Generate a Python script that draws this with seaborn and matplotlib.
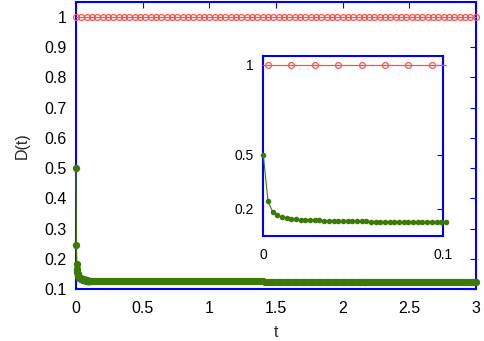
import numpy as np
import matplotlib
matplotlib.use("Agg")
import matplotlib.pyplot as plt
from matplotlib.ticker import FormatStrFormatter
import seaborn as sns

# early-time decay, sampled every dt (also used for the inset)
dt = 0.0026
d_head = [0.5, 0.245, 0.183, 0.165, 0.156, 0.150, 0.146, 0.143, 0.141, 0.139,
          0.138, 0.137, 0.136, 0.135, 0.134, 0.134, 0.133, 0.133, 0.132, 0.132,
          0.131, 0.131, 0.131, 0.130, 0.130, 0.130, 0.130, 0.129, 0.129, 0.129,
          0.129, 0.129, 0.128, 0.128, 0.128, 0.128, 0.128, 0.128, 0.128, 0.128]
t_head = np.arange(len(d_head)) * dt

# long-time tail, read every 0.02
t_tail = np.round(np.arange(0.12, 3.0001, 0.02), 4)
d_tail = [0.127] * 15 + [0.126] * 20 + [0.125] * 30 + [0.124] * 35 + [0.123] * 45

# reference curve D(t) = 1
t_ref = np.round(np.arange(0, 3.0001, 0.04), 4)
d_ref = [1.0] * len(t_ref)
d_ref_head = [1.0] * len(t_head)

xticks_main = [0, 0.5, 1, 1.5, 2, 2.5, 3]
yticks_main = [0.1, 0.2, 0.3, 0.4, 0.5, 0.6, 0.7, 0.8, 0.9, 1]
xticks_in = [0, 0.1]
yticks_in = [0.2, 0.5, 1]

sns.set_style("white")
plt.rcParams['font.family'] = ['Liberation Sans', 'DejaVu Sans']

green = "#3c7a06"
red = "#ff5050"
blue = "#0000ff"

t_main = np.concatenate([t_head, t_tail])
d_main = list(d_head) + d_tail

fig = plt.figure(figsize=(4.84, 3.41), dpi=100)
ax = fig.add_axes([0.157, 0.1525, 0.826, 0.8425])

sns.lineplot(x=t_ref, y=d_ref, ax=ax, color=red, lw=0.9, marker="o",
             markersize=4.2, markerfacecolor="none", markeredgecolor=red,
             markeredgewidth=0.9, clip_on=False, zorder=3)
sns.lineplot(x=t_main, y=d_main, ax=ax, color=green, lw=1, marker="o",
             markersize=5.3, markeredgewidth=0, clip_on=False, zorder=3)

ax.set_xlim(0, 3)
ax.set_ylim(0.1, 1.05)
ax.set_xticks(xticks_main)
ax.set_yticks(yticks_main)
ax.xaxis.set_major_formatter(FormatStrFormatter('%g'))
ax.yaxis.set_major_formatter(FormatStrFormatter('%g'))
ax.set_xlabel("t", fontsize=11.5, labelpad=6)
ax.set_ylabel("D(t)", fontsize=11.5, labelpad=10)

axin = fig.add_axes([0.544, 0.308, 0.372, 0.529])
sns.lineplot(x=t_head, y=d_ref_head, ax=axin, color=red, lw=0.9, marker="o",
             markersize=4.2, markerfacecolor="none", markeredgecolor=red,
             markeredgewidth=0.9, markevery=(1, 5), clip_on=False, zorder=3)
sns.lineplot(x=t_head, y=d_head, ax=axin, color=green, lw=0.8, marker="o",
             markersize=4, markeredgewidth=0, clip_on=False, zorder=3)
axin.set_xlim(0, 0.1)
axin.set_ylim(0.05, 1.05)
axin.set_xticks(xticks_in)
axin.set_yticks(yticks_in)
axin.xaxis.set_major_formatter(FormatStrFormatter('%g'))
axin.yaxis.set_major_formatter(FormatStrFormatter('%g'))
axin.set_xlabel("")
axin.set_ylabel("")

for a, fs in ((ax, 11.5), (axin, 10)):
    for s in a.spines.values():
        s.set_color(blue)
        s.set_linewidth(1.5)
    a.tick_params(direction="in", top=True, right=True, length=4, width=0.8,
                  color=blue, labelcolor="black", labelsize=fs)
    a.tick_params(axis="y", pad=7)
    a.tick_params(axis="x", pad=9)
    if a.get_legend() is not None:
        a.get_legend().remove()

fig.savefig("out.png", dpi=100)
